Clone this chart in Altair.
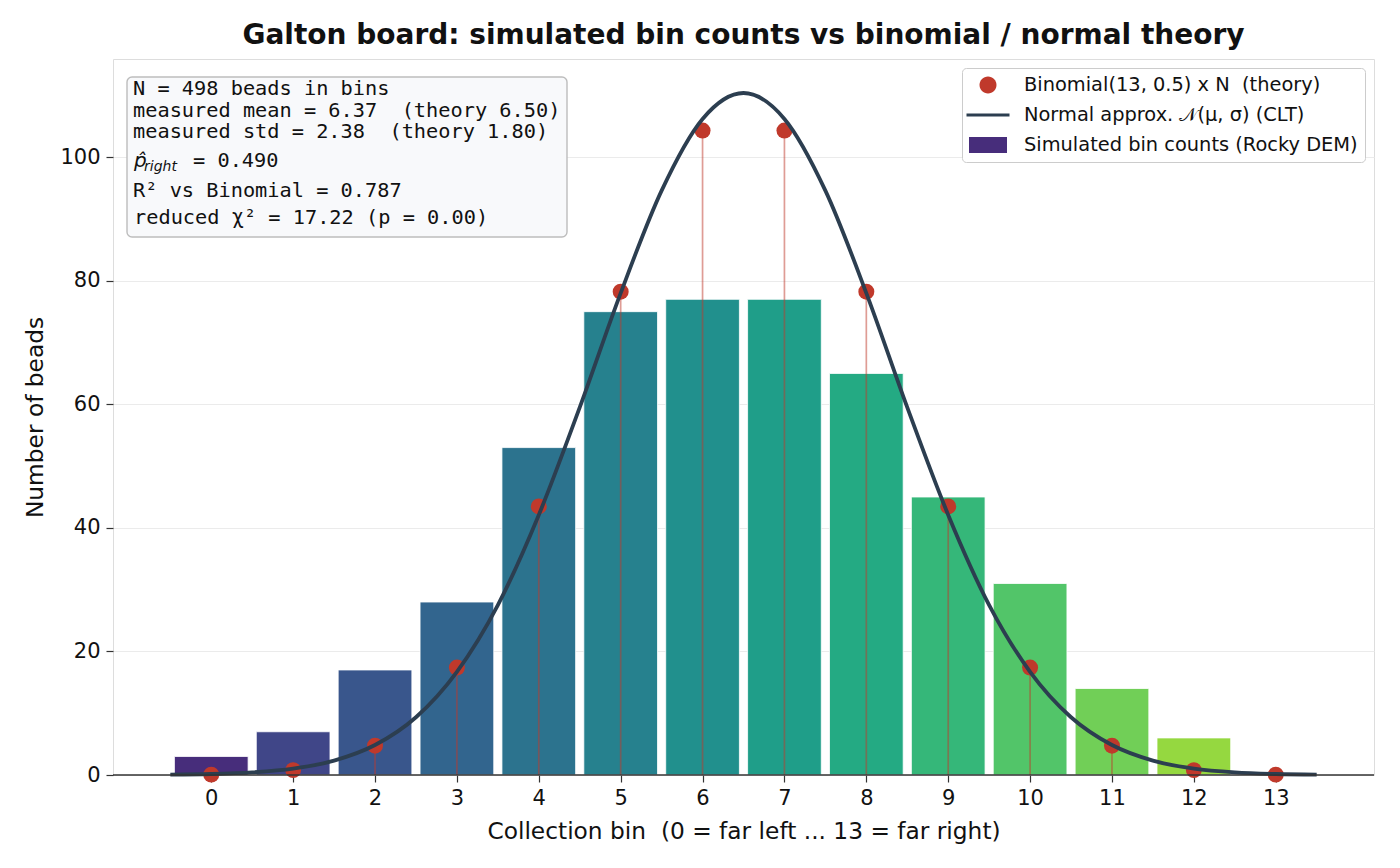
import altair as alt
import pandas as pd

# ---------------- data ----------------
bins = [0, 1, 2, 3, 4, 5, 6, 7, 8, 9, 10, 11, 12, 13]
counts = [3, 7, 17, 28, 53, 75, 77, 77, 65, 45, 31, 14, 6, 0]
binom_theory = [0.06, 0.79, 4.74, 17.39, 43.47, 78.24, 104.32,
                104.32, 78.24, 43.47, 17.39, 4.74, 0.79, 0.06]
bar_colors = ["#472d7b", "#404688", "#39568c", "#32658e", "#2c738e", "#26818e",
              "#21908d", "#1f9e89", "#24aa83", "#35b779", "#52c569", "#71cf57",
              "#95d840", "#bddf26"]
curve_x = [-0.5, 0.0, 0.5, 1.0, 1.5, 2.0, 2.5, 3.0, 3.5, 4.0, 4.5, 5.0, 5.5, 6.0,
           6.5, 7.0, 7.5, 8.0, 8.5, 9.0, 9.5, 10.0, 10.5, 11.0, 11.5, 12.0, 12.5,
           13.0, 13.5]
curve_y = [0.06, 0.16, 0.43, 1.04, 2.33, 4.85, 9.35, 16.7, 27.5, 42.1, 59.5, 78.0,
           94.6, 106.2, 110.4, 106.2, 94.6, 78.0, 59.5, 42.1, 27.5, 16.7, 9.35,
           4.85, 2.33, 1.04, 0.43, 0.16, 0.06]
NB = "\u00a0"
legend_labels = ["Binomial(13, 0.5) x N" + NB + NB + "(theory)",
                 "Normal approx. \U0001D4A9(\u03bc, \u03c3) (CLT)",
                 "Simulated bin counts (Rocky DEM)"]
x_ticks = [0, 1, 2, 3, 4, 5, 6, 7, 8, 9, 10, 11, 12, 13]
y_ticks = [0, 20, 40, 60, 80, 100]

title_text = "Galton board: simulated bin counts vs binomial / normal theory"
x_title = "Collection bin" + NB + NB + "(0 = far left ... 13 = far right)"
y_title = "Number of beads"
info_lines = ["N = 498 beads in bins",
              "measured mean = 6.37" + NB + NB + "(theory 6.50)",
              "measured std = 2.38" + NB + NB + "(theory 1.80)",
              "= 0.490",
              "R\u00b2 vs Binomial = 0.787",
              "reduced \u03c7\u00b2 = 17.22 (p = 0.00)"]

# ---------------- styles ----------------
BAR_W = 0.9
RED = "#c0392b"
NAVY = "#2c3e50"
SANS = "DejaVu Sans"
MONO = "DejaVu Sans Mono"

bars_df = pd.DataFrame({
    "bin": bins,
    "lo": [b - BAR_W / 2 for b in bins],
    "hi": [b + BAR_W / 2 for b in bins],
    "count": counts,
    "color": bar_colors,
})
theory_df = pd.DataFrame({"bin": bins, "theory": binom_theory})
curve_df = pd.DataFrame({"x": curve_x, "y": curve_y})
legend_df = pd.DataFrame({"series": legend_labels, "x": [6.5] * 3, "y": [-50.0] * 3})

xs = alt.Scale(domain=[-1.2, 14.2], nice=False, zero=False)
ys = alt.Scale(domain=[0, 115.9], nice=False, zero=False)

xax = alt.Axis(title=x_title, values=x_ticks, grid=False, domain=False,
               tickSize=7, tickWidth=1.2, tickColor="#333333",
               labelFontSize=21, labelPadding=5, labelFont=SANS, labelColor="#111111",
               titleFontSize=23.3, titleFont=SANS, titleFontWeight="normal",
               titleColor="#111111", titleY=63, titleBaseline="alphabetic")
yax = alt.Axis(title=y_title, values=y_ticks, grid=True, gridColor="#ebebeb",
               gridWidth=1.2, domain=False, tickSize=7, tickWidth=1.2,
               tickColor="#333333", labelFontSize=21, labelPadding=6,
               labelFont=SANS, labelColor="#111111", titleFontSize=23.3,
               titleFont=SANS, titleFontWeight="normal", titleColor="#111111",
               titleX=-71, titleY=358, titleBaseline="alphabetic", titleAngle=-90)

bars = alt.Chart(bars_df).mark_bar(stroke="white", strokeWidth=0.8).encode(
    x=alt.X("lo:Q", scale=xs, axis=xax),
    x2="hi:Q",
    y=alt.Y("count:Q", scale=ys, axis=yax),
    y2=alt.datum(0),
    color=alt.Color("color:N", scale=None),
)

stems = alt.Chart(theory_df).mark_rule(color=RED, opacity=0.5, strokeWidth=1.7).encode(
    x=alt.X("bin:Q", scale=xs, axis=xax),
    y=alt.Y("theory:Q", scale=ys, axis=yax),
    y2=alt.datum(0),
)

dots = alt.Chart(theory_df).mark_circle(color=RED, opacity=1, size=255).encode(
    x=alt.X("bin:Q", scale=xs, axis=xax),
    y=alt.Y("theory:Q", scale=ys, axis=yax),
)

curve = alt.Chart(curve_df).mark_line(color=NAVY, strokeWidth=3.8,
                                      interpolate="monotone").encode(
    x=alt.X("x:Q", scale=xs, axis=xax),
    y=alt.Y("y:Q", scale=ys, axis=yax),
)

baseline = alt.Chart(theory_df.head(1)).mark_rule(color="#333333", strokeWidth=1.4).encode(
    y=alt.Y(datum=0, scale=ys, axis=yax),
)

# --- info box (annotation, pixel positions inside plot) ---
box_df = pd.DataFrame({"x": [14], "x2": [454], "y": [18], "y2": [178]})
box = alt.Chart(box_df).mark_rect(fill="#f8f9fb", stroke="#bdbdbd", strokeWidth=1.4,
                                  cornerRadius=5).encode(
    x=alt.X("x:Q", scale=None, axis=None),
    x2="x2:Q",
    y=alt.Y("y:Q", scale=None, axis=None),
    y2="y2:Q",
)

mono_df = pd.DataFrame({
    "text": info_lines,
    "tx": [20, 20, 20, 80, 20, 21],
    "ty": [36, 58, 79, 108, 138, 165],
})
mono_text = alt.Chart(mono_df).mark_text(font=MONO, fontSize=20.3, align="left",
                                         baseline="alphabetic", color="#111111").encode(
    x=alt.X("tx:Q", scale=None, axis=None),
    y=alt.Y("ty:Q", scale=None, axis=None),
    text="text:N",
)

phat_df = pd.DataFrame({"text": ["p\u0302"], "tx": [21], "ty": [108]})
phat = alt.Chart(phat_df).mark_text(font=SANS, fontSize=20, fontStyle="italic",
                                    align="left", baseline="alphabetic",
                                    color="#111111").encode(
    x=alt.X("tx:Q", scale=None, axis=None),
    y=alt.Y("ty:Q", scale=None, axis=None),
    text="text:N",
)
sub_df = pd.DataFrame({"text": ["right"], "tx": [31], "ty": [112]})
sub = alt.Chart(sub_df).mark_text(font=SANS, fontSize=14, fontStyle="italic",
                                  align="left", baseline="alphabetic",
                                  color="#111111").encode(
    x=alt.X("tx:Q", scale=None, axis=None),
    y=alt.Y("ty:Q", scale=None, axis=None),
    text="text:N",
)

# --- legend source (points clipped out of view) ---
legend_layer = alt.Chart(legend_df).mark_point(filled=True, opacity=1, clip=True,
                                               strokeWidth=0).encode(
    x=alt.X("x:Q", scale=xs, axis=xax),
    y=alt.Y("y:Q", scale=ys, axis=yax),
    color=alt.Color("series:N",
                    scale=alt.Scale(domain=legend_labels,
                                    range=[RED, NAVY, bar_colors[0]]),
                    legend=alt.Legend(title=None, orient="top-right", offset=9,
                                      padding=7, symbolOffset=9, labelOffset=26,
                                      rowPadding=10, labelFontSize=19.4,
                                      labelFont=SANS, labelColor="#111111",
                                      fillColor="white", strokeColor="#cccccc",
                                      cornerRadius=4, symbolSize=400,
                                      symbolStrokeWidth=0, labelLimit=0)),
    shape=alt.Shape("series:N",
                    scale=alt.Scale(domain=legend_labels,
                                    range=["M-0.85,0A0.85,0.85 0 1,0 0.85,0A0.85,0.85 0 1,0 -0.85,0Z",
                                           "M-2.15,-0.16L2.15,-0.16L2.15,0.16L-2.15,0.16Z",
                                           "M-1.9,-0.8L1.9,-0.8L1.9,0.8L-1.9,0.8Z"]),
                    legend=None),
)

chart = alt.layer(bars, stems, dots, curve, baseline, box, mono_text, phat, sub,
                  legend_layer).properties(
    width=1261,
    height=716,
    padding={"left": 105, "top": 51, "right": 10, "bottom": 80},
    autosize=alt.AutoSizeParams(type="none"),
    title=alt.TitleParams(title_text, font=SANS, fontSize=28, fontWeight="bold",
                          color="#111111", anchor="middle",
                          frame="group", offset=9),
).configure_view(stroke="#333333", strokeWidth=1.4).configure(background="white")

chart.save("out.html", embed_options={"renderer": "svg", "actions": False})
